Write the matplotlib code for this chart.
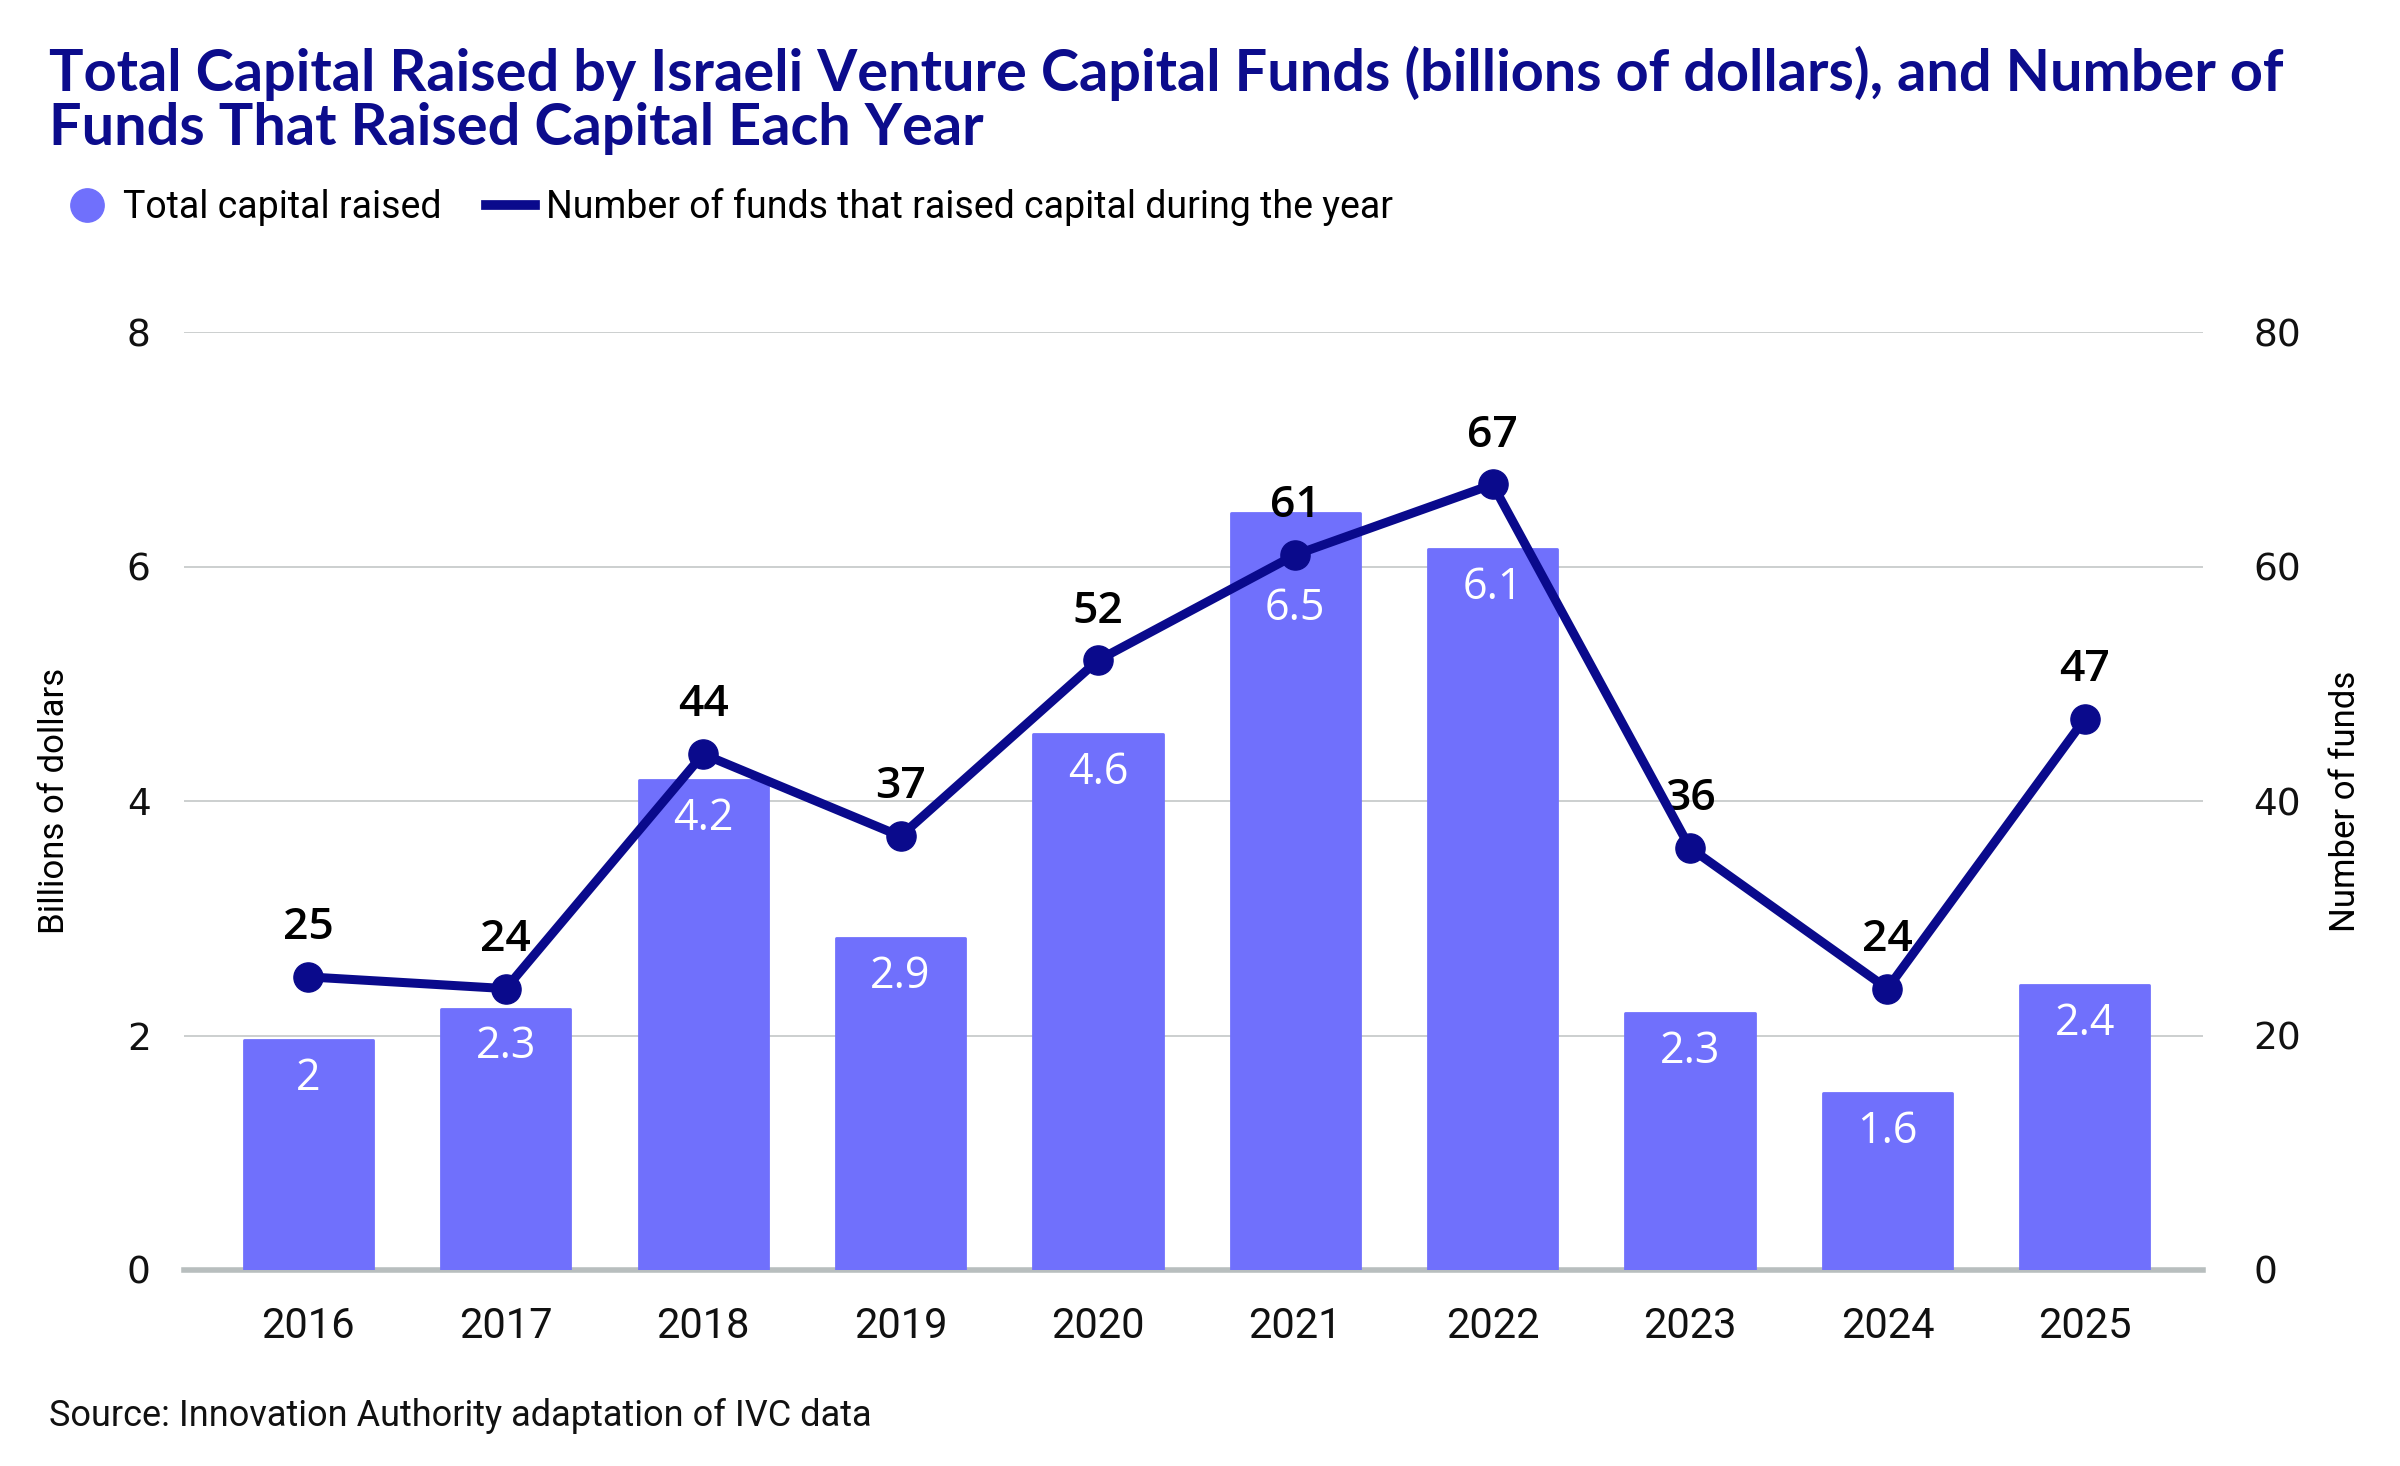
import matplotlib
matplotlib.use("Agg")
import matplotlib.pyplot as plt
from matplotlib.lines import Line2D

years = ["2016", "2017", "2018", "2019", "2020", "2021", "2022", "2023", "2024", "2025"]
capital_raised = [1.96, 2.23, 4.18, 2.83, 4.57, 6.46, 6.15, 2.19, 1.51, 2.43]
capital_labels = ["2", "2.3", "4.2", "2.9", "4.6", "6.5", "6.1", "2.3", "1.6", "2.4"]
num_funds = [25, 24, 44, 37, 52, 61, 67, 36, 24, 47]
left_ticks = [0, 2, 4, 6, 8]
right_ticks = [0, 20, 40, 60, 80]

BAR = "#7070fc"
LINE = "#0a0a8c"
TITLE = "#0c0c8c"
GRID = "#c8cccc"
narrow = "Roboto"

fig = plt.figure(figsize=(24, 14.66), dpi=100)
ax = fig.add_axes([0.0767, 0.1337, 0.8413, 0.6398])
ax2 = ax.twinx()
ax.set_zorder(1)
ax2.set_zorder(2)
ax2.patch.set_visible(False)

x = list(range(len(years)))
ax.bar(x, capital_raised, width=0.655, color=BAR, edgecolor=BAR,
       linewidth=2, joinstyle="round", zorder=3)
ax.set_xlim(-0.63, 9.6)
ax.set_ylim(0, 8)
ax2.set_ylim(0, 80)
ax.set_yticks(left_ticks)
ax2.set_yticks(right_ticks)
ax.set_xticks(x)
ax.set_xticklabels(years)
ax.grid(axis="y", color=GRID, linewidth=1.3, zorder=0)
ax.set_axisbelow(True)
for s in ["top", "right", "left"]:
    ax.spines[s].set_visible(False)
for s in ["top", "right", "left", "bottom"]:
    ax2.spines[s].set_visible(False)
ax.spines["bottom"].set_color("#b8bebe")
ax.spines["bottom"].set_linewidth(4)
ax.tick_params(axis="both", length=0)
ax2.tick_params(axis="both", length=0)
ax.tick_params(axis="x", pad=26, labelsize=30, labelcolor="#111111")
ax.tick_params(axis="y", pad=24, labelsize=27, labelcolor="#111111")
ax2.tick_params(axis="y", pad=36, labelsize=27, labelcolor="#111111")
for lab in ax.get_xticklabels():
    lab.set_family(narrow)

ax.set_ylabel("Billions of dollars", fontsize=25, family=narrow, labelpad=40)
ax2.set_ylabel("Number of funds", fontsize=25, family=narrow, labelpad=20)

ax2.plot(x, num_funds, color=LINE, linewidth=6.5, marker="o", markersize=21,
         solid_capstyle="round", zorder=5)
for xi, v in zip(x, num_funds):
    ax2.annotate(str(v), (xi, v), xytext=(0, 20), textcoords="offset points",
                 ha="center", va="bottom", fontsize=32, family="Open Sans",
                 fontweight="semibold", color="#000000")

for xi, h, lab, n in zip(x, capital_raised, capital_labels, num_funds):
    ly = h - 0.33
    m = n / 10.0
    if ly - 0.3 <= m <= h + 0.35:
        ly = min(ly, m - 0.46)
    ax.text(xi, ly, lab, ha="center", va="center", fontsize=31,
            family="Open Sans", color="white", zorder=4)

fig.text(0.0205, 0.969, "Total Capital Raised by Israeli Venture Capital Funds (billions of dollars), and Number of\nFunds That Raised Capital Each Year",
         ha="left", va="top", fontsize=41.5, fontweight="bold", color=TITLE,
         family="Lato", linespacing=1.04)

handles = [Line2D([0], [0], marker="o", linestyle="none", markersize=24,
                  markerfacecolor=BAR, markeredgecolor=BAR),
           Line2D([0], [0], color=LINE, linewidth=7)]
fig.legend(handles, ["Total capital raised", "Number of funds that raised capital during the year"],
           loc="center left", bbox_to_anchor=(0.012, 0.859), frameon=False,
           ncol=2, handlelength=1.3, handletextpad=0.3,
           columnspacing=1.2, prop={"family": narrow, "size": 27})

fig.text(0.0205, 0.034, "Source: Innovation Authority adaptation of IVC data",
         ha="left", va="center", fontsize=26, family=narrow, color="#111111")

fig.savefig("out.png", dpi=100)
